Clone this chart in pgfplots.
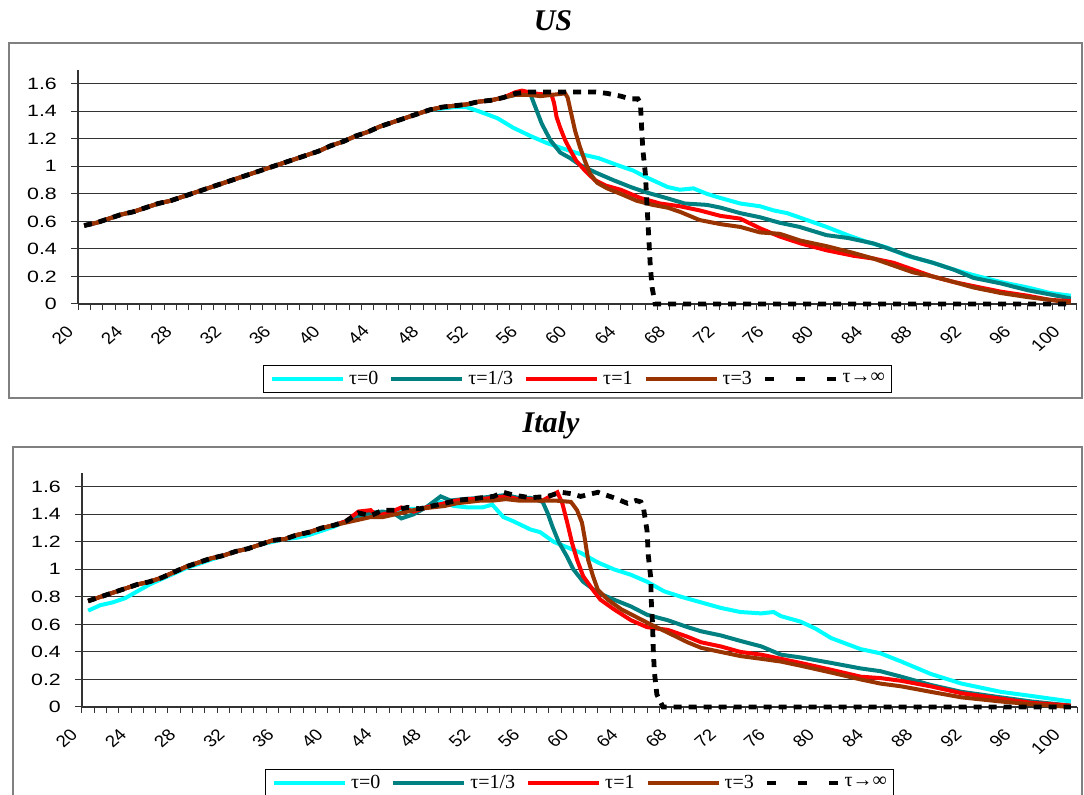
\documentclass[border=0pt]{standalone}
\usepackage{fontspec}
\setmainfont{Liberation Serif}
\setsansfont{Liberation Sans}
\usepackage{pgfplots}
\pgfplotsset{compat=1.18}
\definecolor{cCyan}{RGB}{0,255,255}
\definecolor{cTeal}{RGB}{0,128,128}
\definecolor{cRed}{RGB}{255,0,0}
\definecolor{cBrown}{RGB}{153,51,0}
\pgfplotsset{
  panel/.style={
    scale only axis, height=117pt,
    xmin=19.5, xmax=100.5, ymin=0, ymax=1.7,
    clip=false,
    axis x line*=bottom, axis y line*=left,
    axis line style={-, black!80, line width=0.6pt},
    xtick={20,24,...,100},
    minor xtick={19.5,20.5,...,100.5},
    major x tick style={draw=none},
    ytick={0,0.2,0.4,0.6,0.8,1,1.2,1.4,1.6},
    ymajorgrids, grid style={black!80, line width=0.5pt},
    tick align=outside,
    major tick length=3.5pt, minor tick length=3pt,
    tick style={black!80, line width=0.5pt},
    yticklabel style={font=\sffamily\fontsize{8.2}{10}\selectfont, xshift=-2.5pt, xscale=1.3,
      /pgf/number format/fixed, /pgf/number format/precision=1,
      /pgf/number format/assume math mode=true},
    xticklabel style={font=\sffamily\fontsize{8.2}{10}\selectfont, inner sep=0pt,
      anchor=north east, xshift=-9.5pt, yshift=-6.5pt, xscale=1.15, rotate=45,
      /pgf/number format/assume math mode=true},
    legend columns=5,
    legend style={anchor=center, draw=black, line width=0.5pt,
      font=\fontsize{10}{12}\selectfont, inner xsep=3.5pt, inner ysep=2.5pt,
      nodes={inner sep=0pt},
      /tikz/every odd column/.append style={column sep=2pt},
      /tikz/every even column/.append style={column sep=5.5pt},
      cells={anchor=west}},
    legend image code/.code={\draw[#1] (0pt,0pt) -- (35.5pt,0pt);},
  },
  s0/.style={cCyan, line width=2pt},
  s1/.style={cTeal, line width=2pt},
  s2/.style={cRed, line width=2pt},
  s3/.style={cBrown, line width=2pt},
  s4/.style={black, line width=2.4pt, dash pattern=on 4pt off 3.5pt,
    legend image post style={dash pattern=on 4.5pt off 11pt}},
}
\begin{document}
\begin{tikzpicture}
\useasboundingbox (0pt,0pt) rectangle (542pt,-397.5pt);
% frames
\draw[black!50, line width=1pt] (4.5pt,-21.5pt) rectangle (541pt,-199pt);
\draw[black!50, line width=1pt] (6.5pt,-223.5pt) rectangle (541pt,-420pt);
\node[font=\bfseries\itshape\fontsize{15}{18}\selectfont, anchor=base] at (276.5pt,-15.5pt) {US};
\node[font=\bfseries\itshape\fontsize{15}{18}\selectfont, anchor=base] at (275.5pt,-216.5pt) {Italy};

% ---------------- US ----------------
\begin{axis}[panel, width=499.5pt, at={(39pt,-152pt)}, anchor=south west,
  legend style={at={(0.5,-0.3205)}}]
\addplot[s0] coordinates {(20,0.57)(21,0.59)(22,0.62)(23,0.65)(24,0.67)(25,0.70)(26,0.73)(27,0.75)(28,0.78)(29,0.81)(30,0.84)(31,0.87)(32,0.90)(33,0.93)(34,0.96)(35,0.99)(36,1.02)(37,1.05)(38,1.08)(39,1.11)(40,1.15)(41,1.18)(42,1.22)(43,1.25)(44,1.29)(45,1.32)(46,1.35)(47,1.38)(48,1.41)(49,1.42)(50,1.43)(51,1.43)(52,1.40)(53.5,1.35)(54.8,1.28)(56.2,1.22)(57.5,1.17)(58.8,1.13)(60.2,1.09)(61.7,1.06)(63.2,1.01)(64.5,0.97)(65.6,0.92)(67.3,0.85)(68.3,0.83)(69.4,0.84)(70.5,0.80)(71.6,0.77)(73.2,0.73)(74.8,0.71)(75.9,0.68)(77.0,0.66)(78.6,0.61)(80.2,0.56)(81.9,0.50)(83.5,0.45)(85.1,0.41)(86.7,0.35)(88.8,0.30)(90.5,0.25)(92.1,0.21)(94.3,0.16)(96.5,0.12)(98.3,0.08)(100,0.06)};
\addlegendentry{τ=0}
\addplot[s1] coordinates {(20,0.57)(21,0.59)(22,0.62)(23,0.65)(24,0.67)(25,0.70)(26,0.73)(27,0.75)(28,0.78)(29,0.81)(30,0.84)(31,0.87)(32,0.90)(33,0.93)(34,0.96)(35,0.99)(36,1.02)(37,1.05)(38,1.08)(39,1.11)(40,1.15)(41,1.18)(42,1.22)(43,1.25)(44,1.29)(45,1.32)(46,1.35)(47,1.38)(48,1.41)(49,1.43)(50,1.44)(51,1.45)(52,1.47)(53,1.48)(54,1.50)(55,1.52)(55.8,1.53)(56.2,1.52)(56.5,1.45)(57.1,1.31)(57.8,1.19)(58.6,1.10)(59.4,1.06)(60.2,1.01)(61.6,0.95)(62.9,0.90)(64.3,0.85)(65.6,0.81)(67.2,0.77)(68.7,0.73)(70.5,0.72)(71.6,0.70)(73.2,0.66)(74.8,0.63)(76.4,0.59)(78.0,0.56)(80.2,0.50)(81.9,0.48)(84.0,0.44)(85.6,0.39)(87.2,0.34)(88.8,0.30)(90.5,0.25)(92.1,0.19)(94.3,0.15)(96.5,0.10)(98.3,0.07)(100,0.04)};
\addlegendentry{τ=1/3}
\addplot[s2] coordinates {(20,0.57)(21,0.59)(22,0.62)(23,0.65)(24,0.67)(25,0.70)(26,0.73)(27,0.75)(28,0.78)(29,0.81)(30,0.84)(31,0.87)(32,0.90)(33,0.93)(34,0.96)(35,0.99)(36,1.02)(37,1.05)(38,1.08)(39,1.11)(40,1.15)(41,1.18)(42,1.22)(43,1.25)(44,1.29)(45,1.32)(46,1.35)(47,1.38)(48,1.41)(49,1.43)(50,1.44)(51,1.45)(52,1.47)(53,1.48)(54,1.50)(55,1.54)(55.5,1.55)(56.5,1.53)(57.5,1.52)(57.9,1.52)(58.1,1.46)(58.3,1.36)(58.6,1.28)(59.0,1.19)(59.4,1.12)(59.9,1.04)(60.6,0.97)(61.4,0.90)(62.3,0.86)(63.5,0.83)(65.1,0.77)(66.7,0.73)(68.3,0.71)(69.9,0.68)(71.6,0.64)(73.2,0.62)(74.8,0.55)(76.4,0.49)(78.1,0.44)(80.2,0.39)(82.4,0.35)(84.0,0.33)(85.6,0.30)(87.2,0.25)(88.8,0.20)(90.5,0.16)(92.1,0.13)(94.3,0.09)(96.5,0.06)(98.3,0.03)(100,0.02)};
\addlegendentry{τ=1}
\addplot[s3] coordinates {(20,0.57)(21,0.59)(22,0.62)(23,0.65)(24,0.67)(25,0.70)(26,0.73)(27,0.75)(28,0.78)(29,0.81)(30,0.84)(31,0.87)(32,0.90)(33,0.93)(34,0.96)(35,0.99)(36,1.02)(37,1.05)(38,1.08)(39,1.11)(40,1.15)(41,1.18)(42,1.22)(43,1.25)(44,1.29)(45,1.32)(46,1.35)(47,1.38)(48,1.41)(49,1.43)(50,1.44)(51,1.45)(52,1.47)(53,1.48)(54,1.50)(55,1.52)(56,1.52)(57,1.51)(58,1.52)(59.0,1.53)(59.2,1.50)(59.5,1.38)(59.8,1.26)(60.2,1.14)(60.6,1.04)(61.0,0.95)(61.6,0.88)(62.4,0.84)(63.5,0.80)(64.8,0.75)(66.1,0.72)(67.3,0.70)(68.3,0.67)(69.9,0.61)(71.6,0.58)(73.2,0.56)(74.8,0.52)(76.4,0.51)(78.1,0.46)(80.2,0.42)(82.4,0.37)(84.0,0.33)(85.6,0.28)(87.2,0.23)(88.8,0.20)(90.5,0.16)(92.1,0.12)(94.3,0.08)(96.5,0.05)(98.3,0.03)(100,0.01)};
\addlegendentry{τ=3}
\addplot[s4] coordinates {(20,0.57)(21,0.59)(22,0.62)(23,0.65)(24,0.67)(25,0.70)(26,0.73)(27,0.75)(28,0.78)(29,0.81)(30,0.84)(31,0.87)(32,0.90)(33,0.93)(34,0.96)(35,0.99)(36,1.02)(37,1.05)(38,1.08)(39,1.11)(40,1.15)(41,1.18)(42,1.22)(43,1.25)(44,1.29)(45,1.32)(46,1.35)(47,1.38)(48,1.41)(49,1.43)(50,1.44)(51,1.45)(52,1.47)(53,1.48)(54,1.50)(55,1.53)(56,1.54)(57.5,1.54)(59,1.54)(60.2,1.54)(61.5,1.54)(62.4,1.53)(63.5,1.51)(64.3,1.49)(64.9,1.49)(65.1,1.46)(65.2,1.28)(65.3,1.12)(65.5,0.95)(65.6,0.78)(65.7,0.61)(65.8,0.45)(65.9,0.28)(66.05,0.12)(66.3,0.0)(67,0)(100,0)};
\addlegendentry{τ→∞}
\end{axis}

% ---------------- Italy ----------------
\begin{axis}[panel, width=497.5pt, at={(41pt,-353.5pt)}, anchor=south west,
  legend style={at={(0.5,-0.325)}}]
\addplot[s0] coordinates {(20,0.70)(21,0.74)(22,0.76)(23,0.79)(24,0.84)(25,0.89)(26,0.93)(27,0.97)(28,1.01)(29,1.04)(30,1.07)(31,1.10)(32,1.13)(33,1.15)(34,1.18)(35,1.20)(36,1.22)(37,1.23)(38,1.25)(39,1.28)(40,1.31)(41,1.35)(42,1.38)(43,1.40)(44,1.41)(45,1.43)(46,1.44)(47,1.44)(48,1.46)(48.7,1.49)(49.8,1.46)(50.9,1.45)(52.1,1.45)(52.9,1.47)(53.8,1.38)(54.6,1.35)(56.0,1.29)(56.8,1.27)(57.9,1.20)(59.0,1.16)(60.1,1.12)(61.5,1.05)(62.8,1.00)(64.2,0.96)(65.5,0.91)(66.9,0.84)(68.3,0.80)(69.9,0.76)(71.5,0.72)(73.1,0.69)(74.8,0.68)(75.8,0.69)(76.4,0.66)(78.0,0.62)(79.2,0.57)(80.5,0.50)(82.0,0.45)(82.9,0.42)(84.5,0.39)(86.2,0.33)(88.6,0.24)(91.1,0.17)(94.3,0.11)(96.8,0.08)(99.2,0.05)(100,0.04)};
\addlegendentry{τ=0}
\addplot[s1] coordinates {(20,0.77)(21,0.80)(22,0.83)(23,0.86)(24,0.89)(25,0.91)(26,0.94)(27,0.98)(28,1.02)(29,1.05)(30,1.08)(31,1.10)(32,1.13)(33,1.15)(34,1.18)(35,1.21)(36,1.22)(37,1.25)(38,1.27)(39,1.30)(40,1.32)(41,1.35)(42,1.39)(43,1.41)(44,1.42)(45,1.40)(45.5,1.37)(46.5,1.40)(47.5,1.45)(48.7,1.53)(49.5,1.50)(50.5,1.51)(52,1.52)(53,1.53)(54,1.54)(55,1.52)(56,1.52)(57.0,1.49)(57.4,1.41)(57.8,1.31)(58.3,1.20)(59.0,1.09)(59.5,1.00)(60.3,0.91)(61.5,0.83)(62.8,0.78)(64.2,0.73)(65.5,0.67)(67.2,0.63)(68.8,0.58)(69.9,0.55)(71.5,0.52)(73.1,0.48)(74.8,0.44)(76.4,0.38)(78.0,0.36)(80.5,0.32)(82.9,0.28)(84.5,0.26)(86.2,0.22)(88.6,0.16)(91.1,0.11)(94.3,0.07)(96.8,0.04)(100,0.01)};
\addlegendentry{τ=1/3}
\addplot[s2] coordinates {(20,0.77)(21,0.80)(22,0.83)(23,0.86)(24,0.89)(25,0.91)(26,0.94)(27,0.98)(28,1.02)(29,1.05)(30,1.08)(31,1.10)(32,1.13)(33,1.15)(34,1.18)(35,1.21)(36,1.22)(37,1.25)(38,1.27)(39,1.30)(40,1.32)(41,1.35)(42,1.42)(43,1.43)(43.5,1.39)(44.5,1.41)(45.5,1.45)(46.5,1.42)(47.5,1.45)(48.5,1.47)(50,1.50)(51,1.51)(52,1.51)(53,1.52)(54,1.53)(55,1.51)(56,1.51)(57,1.50)(58.2,1.56)(58.6,1.48)(59.0,1.34)(59.4,1.19)(59.8,1.07)(60.3,0.95)(61.1,0.85)(61.7,0.78)(62.8,0.71)(64.2,0.63)(65.5,0.58)(67.2,0.56)(68.8,0.51)(69.9,0.47)(71.5,0.44)(73.1,0.40)(74.8,0.38)(76.4,0.35)(78.0,0.32)(80.5,0.27)(82.9,0.22)(84.5,0.21)(86.2,0.19)(88.6,0.15)(91.1,0.10)(94.3,0.06)(96.8,0.03)(100,0.01)};
\addlegendentry{τ=1}
\addplot[s3] coordinates {(20,0.77)(21,0.80)(22,0.83)(23,0.86)(24,0.89)(25,0.91)(26,0.94)(27,0.98)(28,1.02)(29,1.05)(30,1.08)(31,1.10)(32,1.13)(33,1.15)(34,1.18)(35,1.21)(36,1.22)(37,1.25)(38,1.27)(39,1.30)(40,1.32)(41,1.34)(42,1.36)(43,1.38)(44,1.38)(45,1.40)(46,1.42)(47,1.44)(48,1.45)(49,1.46)(50,1.48)(51,1.49)(52,1.50)(53,1.50)(54,1.51)(55,1.50)(56,1.50)(57,1.50)(58,1.50)(59.3,1.49)(59.8,1.43)(60.2,1.34)(60.4,1.24)(60.7,1.07)(61.1,0.95)(61.5,0.85)(62.3,0.78)(63.4,0.71)(64.7,0.65)(65.8,0.60)(67.2,0.54)(68.8,0.47)(69.9,0.43)(71.5,0.40)(73.1,0.37)(74.8,0.35)(76.4,0.33)(78.0,0.30)(80.5,0.25)(82.9,0.20)(84.5,0.17)(86.2,0.15)(88.6,0.11)(91.1,0.07)(94.3,0.04)(96.8,0.02)(100,0.0)};
\addlegendentry{τ=3}
\addplot[s4] coordinates {(20,0.77)(21,0.80)(22,0.83)(23,0.86)(24,0.89)(25,0.91)(26,0.94)(27,0.98)(28,1.02)(29,1.05)(30,1.08)(31,1.10)(32,1.13)(33,1.15)(34,1.18)(35,1.21)(36,1.22)(37,1.25)(38,1.27)(39,1.30)(40,1.32)(41,1.35)(42,1.41)(43,1.39)(44,1.43)(45,1.43)(46,1.45)(47,1.44)(48,1.46)(49,1.48)(50,1.50)(51,1.51)(52,1.52)(53,1.53)(53.8,1.56)(54.6,1.54)(56.0,1.52)(57.4,1.53)(58.5,1.56)(59.3,1.55)(60.1,1.53)(61.5,1.56)(62.8,1.52)(63.9,1.48)(64.6,1.50)(65.0,1.49)(65.2,1.45)(65.5,1.28)(65.6,1.10)(65.8,0.94)(65.85,0.76)(65.95,0.60)(66.0,0.43)(66.1,0.25)(66.3,0.09)(66.8,0.0)(100,0)};
\addlegendentry{τ→∞}
\end{axis}
\end{tikzpicture}
\end{document}
